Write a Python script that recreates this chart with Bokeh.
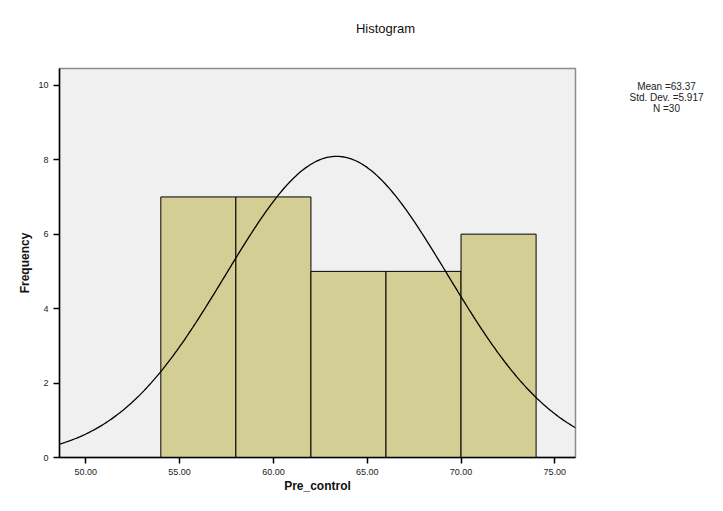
import numpy as np
from bokeh.plotting import figure
from bokeh.layouts import column, row
from bokeh.models import Range1d, FixedTicker, CustomJSTickFormatter
from bokeh.core.properties import value
from bokeh.embed import file_html
from bokeh.resources import INLINE

# data
bin_edges = [54, 58, 62, 66, 70, 74]
counts = [7, 7, 5, 5, 6]
mean_val = 63.37
sd_val = 5.917
n_val = 30
x_ticks = [50, 55, 60, 65, 70, 75]
y_ticks = [0, 2, 4, 6, 8, 10]
title_text = "Histogram"
legend_lines = ["Mean =%.2f" % mean_val, "Std. Dev. =%.3f" % sd_val, "N =%d" % n_val]

FONT = "Liberation Sans"


def text_panel(w, h):
    f = figure(width=w, height=h, output_backend="svg", toolbar_location=None,
               x_range=Range1d(0, w), y_range=Range1d(h, 0),
               x_axis_type=None, y_axis_type=None, min_border=0)
    f.grid.visible = False
    f.outline_line_color = None
    f.background_fill_color = "white"
    f.border_fill_color = "white"
    return f


# title strip
tfig = text_panel(707, 40)
tfig.text(x=[385], y=[28], text=[title_text], text_font=value(FONT),
          text_font_size="13px", text_align="center", text_baseline="middle",
          text_color="#111111")

# main histogram
p = figure(width=590, height=455, output_backend="svg", toolbar_location=None,
           x_range=Range1d(48.6, 76.1), y_range=Range1d(0, 10.45),
           min_border_left=59, min_border_right=15, min_border_top=28, min_border_bottom=34)
p.background_fill_color = "#f0f0f0"
p.border_fill_color = "white"
p.outline_line_color = "#8c8c8c"
p.outline_line_width = 1.5
p.grid.visible = False

p.quad(left=bin_edges[:-1], right=bin_edges[1:], top=counts, bottom=0,
       fill_color="#d3ce93", line_color="black", line_width=1)

bw = bin_edges[1] - bin_edges[0]
xs = np.linspace(48.6, 76.1, 300)
ys = n_val * bw * np.exp(-0.5 * ((xs - mean_val) / sd_val) ** 2) / (sd_val * np.sqrt(2 * np.pi))
p.line(xs, ys, line_color="black", line_width=1.3)

for ax in (p.xaxis[0], p.yaxis[0]):
    ax.axis_line_color = "black"
    ax.axis_line_width = 1.5
    ax.major_tick_line_color = "black"
    ax.major_tick_line_width = 1.5
    ax.major_tick_out = 6
    ax.major_tick_in = 0
    ax.minor_tick_line_color = None
    ax.major_label_text_font = FONT
    ax.major_label_text_font_size = "9px"
    ax.major_label_text_color = "#222222"
    ax.axis_label_text_font = FONT
    ax.axis_label_text_font_style = "bold"
    ax.axis_label_text_font_size = "12px"
    ax.axis_label_text_color = "#111111"

p.xaxis.ticker = FixedTicker(ticks=x_ticks)
p.yaxis.ticker = FixedTicker(ticks=y_ticks)
p.xaxis.formatter = CustomJSTickFormatter(code="return tick.toFixed(2);")
p.xaxis.axis_label = "Pre_control"
p.yaxis.axis_label = "Frequency"
p.xaxis.major_label_standoff = 5
p.yaxis.major_label_standoff = 5
p.xaxis.axis_label_standoff = 1
p.yaxis.axis_label_standoff = 3

# legend panel on the right
lfig = text_panel(117, 455)
lfig.text(x=[76, 76, 76], y=[21, 34, 47], text=legend_lines, text_font=value(FONT),
          text_font_size="10px", text_align="center", text_baseline="middle",
          text_color="#222222")

layout = column(tfig, row(p, lfig, spacing=0), spacing=0)
open("out.html", "w").write(file_html(layout, INLINE))
